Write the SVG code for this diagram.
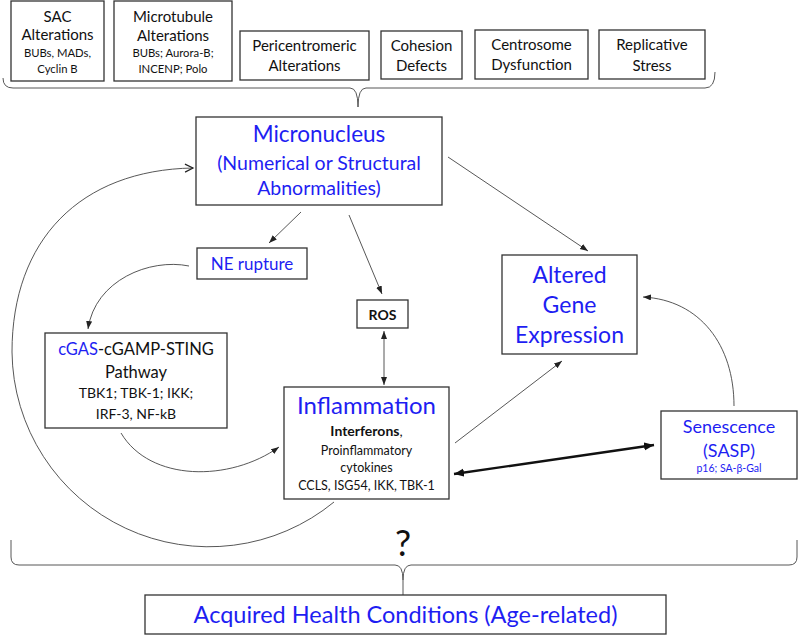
<svg xmlns="http://www.w3.org/2000/svg" width="800" height="637" viewBox="0 0 800 637">
<style>
text{font-family:Lato,"Open Sans","Liberation Sans",sans-serif;text-anchor:middle;fill:#111}
.b{fill:#1e1ef2}
.box{fill:#fff;stroke:#333;stroke-width:1.3}
.ln{fill:none;stroke:#444;stroke-width:0.9}
.t15{font-size:15px}.t10{font-size:11.3px}
</style>
<defs>
<marker id="ah" markerUnits="userSpaceOnUse" markerWidth="10" markerHeight="8" refX="8" refY="3" orient="auto-start-reverse"><path d="M0,0 L8,3 L0,6 z" fill="#222"/></marker>
<marker id="ahb" markerUnits="userSpaceOnUse" markerWidth="12" markerHeight="10" refX="10" refY="4" orient="auto-start-reverse"><path d="M0,0 L10,4 L0,8 z" fill="#111"/></marker>
<marker id="ov" markerUnits="userSpaceOnUse" markerWidth="12" markerHeight="12" refX="9" refY="5" orient="auto"><path d="M1,1 L9,5 L1,9" fill="none" stroke="#222" stroke-width="1.2"/></marker>
</defs>

<g id="sac"><rect class="box" x="11" y="1" width="93" height="80"/>
<text class="t15" x="57.5" y="22">SAC</text><text class="t15" x="57.5" y="40">Alterations</text>
<text class="t10" x="57.5" y="57">BUBs, MADs,</text><text class="t10" x="57.5" y="73">Cyclin B</text></g>
<g id="microtubule"><rect class="box" x="114" y="1" width="118" height="80"/>
<text class="t15" x="173" y="22">Microtubule</text><text class="t15" x="173" y="41">Alterations</text>
<text class="t10" x="173" y="57">BUBs; Aurora-B;</text><text class="t10" x="173" y="73">INCENP; Polo</text></g>
<g id="pericentromeric"><rect class="box" x="240" y="31" width="129" height="49"/>
<text class="t15" x="304.5" y="51">Pericentromeric</text><text class="t15" x="304.5" y="71">Alterations</text></g>
<g id="cohesion"><rect class="box" x="381" y="31" width="81" height="48"/>
<text class="t15" x="421.5" y="51">Cohesion</text><text class="t15" x="421.5" y="71">Defects</text></g>
<g id="centrosome"><rect class="box" x="475" y="30" width="113" height="49"/>
<text class="t15" x="531.5" y="50">Centrosome</text><text class="t15" x="531.5" y="70">Dysfunction</text></g>
<g id="replicative"><rect class="box" x="599" y="30" width="106" height="49"/>
<text class="t15" x="652" y="50">Replicative</text><text class="t15" x="652" y="71">Stress</text></g>

<g id="connectors">
<path class="ln" stroke-width="1.2" d="M3,78 Q3,88 13,88 H350 Q358,88 358,107 Q358,88 366,88 H705 Q715,88 715,72"/>
<path class="ln" stroke-width="1.2" d="M11,540 V557 Q11,565 19,565 H395 Q403,565 403,580 V595 M403,580 Q403,565 411,565 H789 Q797,565 797,557 V540"/>
<line class="ln" x1="301" y1="212" x2="269" y2="243" marker-end="url(#ah)"/>
<line class="ln" x1="349" y1="215" x2="382" y2="294" marker-end="url(#ah)"/>
<line class="ln" x1="448" y1="157" x2="588" y2="251" marker-end="url(#ah)"/>
<path class="ln" stroke="#222" stroke-width="1.1" d="M189,266 C150,258 95,280 88,329" marker-end="url(#ah)"/>
<line class="ln" x1="384" y1="331" x2="384" y2="385" marker-start="url(#ah)" marker-end="url(#ah)"/>
<path class="ln" stroke="#333" d="M121,433 C150,482 230,482 279,447" marker-end="url(#ah)"/>
<line class="ln" stroke="#777" x1="455" y1="443" x2="562" y2="361" marker-end="url(#ah)"/>
<line stroke="#111" stroke-width="2.4" x1="654" y1="445" x2="454" y2="474" marker-start="url(#ahb)" marker-end="url(#ahb)"/>
<path class="ln" stroke="#777" d="M734,406 C734,345 700,300 643,297" marker-end="url(#ah)"/>
<path class="ln" stroke="#222" stroke-width="1.2" d="M334,502 A197,197 0 0 1 12,352 C12,240 80,170 193,168" marker-end="url(#ov)"/>
</g>

<g id="micronucleus"><rect class="box" x="196" y="117" width="246" height="88"/>
<text class="b" x="319" y="142" font-size="22.5">Micronucleus</text>
<text class="b" x="319" y="170" font-size="19.5">(Numerical or Structural</text>
<text class="b" x="319" y="195" font-size="19.5">Abnormalities)</text></g>
<g id="ne-rupture"><rect class="box" x="197" y="248" width="110" height="31"/>
<text class="b" x="252" y="270" font-size="17">NE rupture</text></g>
<g id="ros"><rect class="box" x="357" y="300" width="51" height="28"/>
<text x="382.5" y="320" font-size="14" font-weight="bold">ROS</text></g>
<g id="altered-gene"><rect class="box" x="502" y="255" width="135" height="99"/>
<text class="b" x="569.5" y="283" font-size="23">Altered</text>
<text class="b" x="569.5" y="313" font-size="23">Gene</text>
<text class="b" x="569.5" y="343" font-size="23">Expression</text></g>
<g id="cgas"><rect class="box" x="45" y="333" width="182" height="95"/>
<text x="136" y="355" font-size="16.5"><tspan class="b">cGAS</tspan>-cGAMP-STING</text>
<text x="136" y="378" font-size="16.5">Pathway</text>
<text x="136" y="398" font-size="14">TBK1; TBK-1; IKK;</text>
<text x="136" y="419" font-size="14">IRF-3, NF-kB</text></g>
<g id="inflammation"><rect class="box" x="284" y="387" width="165" height="112"/>
<text class="b" x="366.5" y="414" font-size="24">Inflammation</text>
<text x="366.5" y="436" font-size="14"><tspan font-weight="bold">Interferons</tspan>,</text>
<text x="366.5" y="455" font-size="12.5">Proinflammatory</text>
<text x="366.5" y="472" font-size="12.5">cytokines</text>
<text x="366.5" y="490" font-size="12.5">CCLS, ISG54, IKK, TBK-1</text></g>
<g id="senescence"><rect class="box" x="661" y="411" width="136" height="68"/>
<text class="b" x="729" y="433" font-size="18">Senescence</text>
<text class="b" x="729" y="457" font-size="18">(SASP)</text>
<text class="b" x="729" y="472" font-size="10.5">p16; SA-β-Gal</text></g>
<g id="question"><text x="403" y="556" font-size="36">?</text></g>
<g id="acquired"><rect class="box" x="145" y="595" width="521" height="39"/>
<text class="b" x="405.5" y="623" font-size="23.5">Acquired Health Conditions (Age-related)</text></g>
</svg>
